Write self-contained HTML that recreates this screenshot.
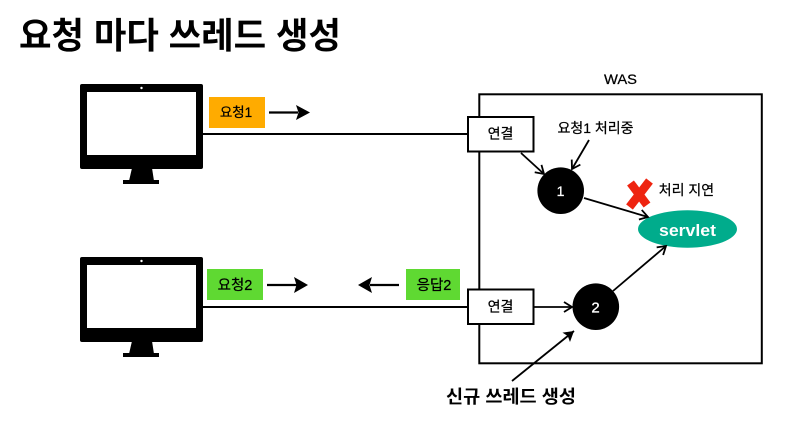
<!DOCTYPE html>
<html>
<head>
<meta charset="utf-8">
<style>
html,body{margin:0;padding:0;background:#fff;}
svg{display:block;}
text{font-family:"Liberation Sans","Noto Sans CJK KR",sans-serif;fill:#000;}
.m{stroke:#000;stroke-width:.25px;}
.w{fill:#fff;stroke:#fff;stroke-width:.3px;}
</style>
</head>
<body>
<svg width="808" height="446" viewBox="0 0 808 446" xmlns="http://www.w3.org/2000/svg">
<defs>
<g id="mon">
<rect x="80" y="84" width="123" height="85" rx="2" fill="#000"/>
<rect x="87" y="92" width="109" height="63" fill="#fff"/>
<circle cx="141.500" cy="88" r="1.200" fill="#fff"/>
<path d="M132 168H152L154 181H129Z" fill="#000"/>
<rect x="123" y="180" width="36" height="4" fill="#000"/>
</g>
<marker id="a" markerUnits="userSpaceOnUse" markerWidth="14" markerHeight="14" refX="11" refY="7" orient="auto">
<path d="M3 2L11 7L3 12" fill="none" stroke="#000" stroke-width="1.800"/>
</marker>
<marker id="s" markerUnits="userSpaceOnUse" markerWidth="14" markerHeight="14" refX="11" refY="7" orient="auto">
<path d="M1 1L11 7L1 13L3 7Z" fill="#000"/>
</marker>
</defs>

<text x="19" y="48" font-size="36" font-weight="700" textLength="322" lengthAdjust="spacingAndGlyphs">요청 마다 쓰레드 생성</text>

<use href="#mon"/>
<use href="#mon" y="173"/>

<rect x="479.300" y="94.300" width="282.500" height="269" fill="none" stroke="#000" stroke-width="2"/>
<text x="620.500" y="84" font-size="14" class="m" text-anchor="middle" textLength="33" lengthAdjust="spacingAndGlyphs">WAS</text>

<line x1="203" y1="134" x2="467" y2="134" stroke="#000" stroke-width="2"/>
<line x1="203" y1="307" x2="467" y2="307" stroke="#000" stroke-width="2"/>

<rect x="468" y="117" width="65.500" height="34.500" fill="#fff" stroke="#000" stroke-width="2"/>
<rect x="468" y="289.500" width="65.500" height="34.500" fill="#fff" stroke="#000" stroke-width="2"/>
<text x="500.500" y="138.500" font-size="14" class="m" text-anchor="middle">연결</text>
<text x="500.500" y="311.500" font-size="14" class="m" text-anchor="middle">연결</text>

<rect x="209" y="97" width="56" height="31" fill="#ffab00"/>
<text x="236" y="117" font-size="13.500" class="m" text-anchor="middle">요청1</text>
<rect x="207" y="269" width="56" height="31" fill="#5fd932"/>
<text x="235" y="290" font-size="14.500" class="m" text-anchor="middle">요청2</text>
<rect x="406" y="269" width="54" height="31" fill="#5fd932"/>
<text x="434" y="290" font-size="14.500" class="m" text-anchor="middle">응답2</text>

<g stroke="#000" stroke-width="2.200">
<line x1="269" y1="112.500" x2="298" y2="112.500"/>
<line x1="267" y1="285" x2="297" y2="285"/>
<line x1="399" y1="285" x2="370" y2="285"/>
</g>
<path d="M296 105L310 112.500L296 120L298.500 112.500Z" fill="#000"/>
<path d="M294 277L308 285L294 293L296.500 285Z" fill="#000"/>
<path d="M372 277L358 285L372 293L369.500 285Z" fill="#000"/>

<circle cx="560.700" cy="190.700" r="23.300" fill="#000"/>
<text x="560.500" y="196" font-size="14" class="w" text-anchor="middle">1</text>
<circle cx="595.800" cy="306.700" r="23.300" fill="#000"/>
<text x="595.500" y="312.500" font-size="15" class="w" text-anchor="middle">2</text>

<ellipse cx="687.500" cy="229" rx="49.500" ry="18.700" fill="#00ac8c"/>
<text x="687.500" y="236" font-size="17" font-weight="700" text-anchor="middle" style="fill:#fff" textLength="57" lengthAdjust="spacingAndGlyphs">servlet</text>

<g fill="none" stroke="#000" stroke-width="1.800">
<line x1="521" y1="153" x2="544" y2="174" marker-end="url(#a)"/>
<line x1="589" y1="140" x2="572" y2="169" marker-end="url(#a)"/>
<line x1="584" y1="198" x2="648" y2="217" marker-end="url(#a)"/>
<line x1="534" y1="307" x2="572" y2="307" marker-end="url(#a)"/>
<line x1="613" y1="291" x2="666" y2="246" marker-end="url(#a)"/>
</g>
<line x1="512" y1="381" x2="574" y2="331" stroke="#000" stroke-width="1.800" marker-end="url(#s)"/>

<g stroke="#ee2410" stroke-width="8.500" fill="none">
<line x1="649.500" y1="181" x2="629.500" y2="207"/>
<line x1="630.500" y1="183" x2="647" y2="205"/>
</g>

<text x="595.500" y="133" font-size="14" class="m" text-anchor="middle">요청1 처리중</text>
<text x="686.500" y="195" font-size="14" class="m" text-anchor="middle">처리 지연</text>
<text x="511" y="403" font-size="18" font-weight="700" text-anchor="middle" textLength="130" lengthAdjust="spacingAndGlyphs">신규 쓰레드 생성</text>
</svg>
</body>
</html>
